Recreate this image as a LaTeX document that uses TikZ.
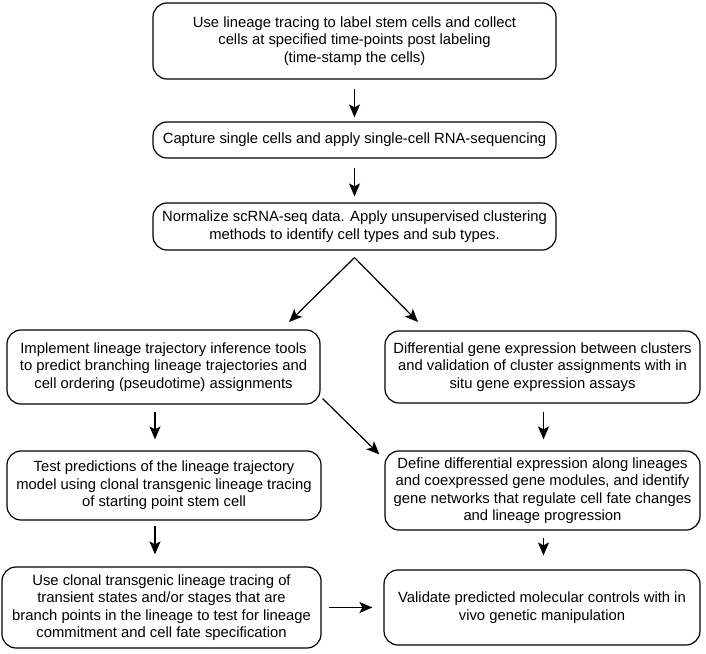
\documentclass[tikz,border=0pt]{standalone}
\usepackage{fontspec}
\setmainfont{Liberation Sans}
\usetikzlibrary{arrows.meta}
\tikzset{
    stepbox/.style={draw,rounded corners=14pt,line width=1.2pt,align=center,inner sep=0pt,font=\fontsize{14.8}{17.5}\selectfont},
    flow/.style={-{Stealth[length=13pt,width=11pt,inset=3pt]},line width=1.2pt}
}

\begin{document}
\begin{tikzpicture}[x=1pt,y=-1pt]
                            \useasboundingbox (0,0) rectangle (706,653);
                            \node[stepbox,minimum width=403pt,minimum height=76pt] (trace) at (354.5,41) {Use lineage tracing to label stem cells and collect\\cells at specified time-points post labeling\\(time-stamp the cells)};
                            \node[stepbox,minimum width=403pt,minimum height=36pt] (capture) at (354.5,140) {Capture single cells and apply single-cell RNA-sequencing};
                            \node[stepbox,minimum width=403pt,minimum height=47pt] (cluster) at (354.5,226.5) {Normalize scRNA-seq data. Apply unsupervised clustering\\methods to identify cell types and sub types.};
                            \node[stepbox,minimum width=313pt,minimum height=74pt] (infer) at (163.5,367) {Implement lineage trajectory inference tools\\to predict branching lineage trajectories and\\cell ordering (pseudotime) assignments};
                            \node[stepbox,minimum width=315pt,minimum height=72pt] (diffexp) at (542.5,367) {Differential gene expression between clusters\\and validation of cluster assignments with in\\situ gene expression assays};
                            \node[stepbox,minimum width=314pt,minimum height=69pt] (test) at (164,485.5) {Test predictions of the lineage trajectory\\model using clonal transgenic lineage tracing\\of starting point stem cell};
                            \node[stepbox,minimum width=315pt,minimum height=79pt] (define) at (542.5,490.5) {Define differential expression along lineages\\and coexpressed gene modules, and identify\\gene networks that regulate cell fate changes\\and lineage progression};
                            \node[stepbox,minimum width=319pt,minimum height=81pt] (clonal) at (161.5,607.5) {Use clonal transgenic lineage tracing of\\transient states and/or stages that are\\branch points in the lineage to test for lineage\\commitment and cell fate specification};
                            \node[stepbox,minimum width=316pt,minimum height=75pt] (validate) at (542,607.5) {Validate predicted molecular controls with in\\vivo genetic manipulation};
                            \coordinate (split) at ([yshift=-7pt]cluster.south);
                            \coordinate (tipL) at (289,322);
                            \coordinate (tipR) at (418,322);
                            \draw[flow,shorten <=9pt,shorten >=4pt] (trace) -- (capture);
                            \draw[flow,shorten <=9pt,shorten >=6pt] (capture) -- (cluster);
                            \draw[flow] (split) -- (tipL);
                            \draw[flow] (split) -- (tipR);
                            \draw[flow,shorten <=7pt,shorten >=11pt] ([xshift=-8.5pt]infer.south) -- ([xshift=-8.5pt]infer.south |- test.north);
                            \draw[flow,shorten <=8pt,shorten >=11pt] ([xshift=1pt]diffexp.south) -- ([xshift=1pt]diffexp.south |- define.north);
                            \draw[flow] ([shift={(2,-6)}]infer.south east) -- ([shift={(-5,4)}]define.north west);
                            \draw[flow,shorten <=5pt,shorten >=12pt] ([xshift=-8.5pt]infer.south |- test.south) -- ([xshift=-8.5pt]infer.south |- clonal.north);
                            \draw[flow,shorten <=7pt,shorten >=14pt] ([xshift=1pt]define.south) -- ([xshift=1pt]define.south |- validate.north);
                            \draw[flow,shorten <=7pt,shorten >=11pt] (clonal.east) -- (clonal.east -| validate.west);
                        \end{tikzpicture}
\end{document}
